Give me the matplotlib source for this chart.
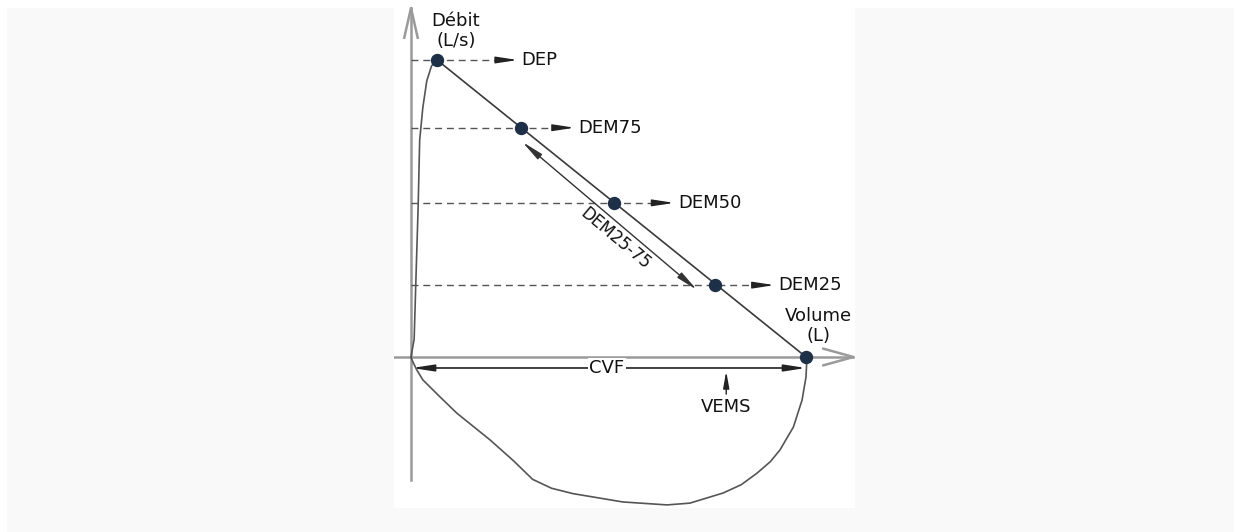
#!/usr/bin/env python3
"""Courbe debit-volume schematique (spirometrie): DEP, DEM75/50/25, CVF, VEMS."""
import matplotlib
matplotlib.use("Agg")
import matplotlib.pyplot as plt
from matplotlib.patches import Rectangle

CVF = 5.0
DEP = 10.0

# montee initiale de la courbe expiratoire jusqu'au DEP
rise_vol = [0.0, 0.04, 0.06, 0.09, 0.11, 0.15, 0.20, 0.26, 0.33]
rise_flow = [0.0, 0.6, 2.4, 5.0, 7.3, 8.4, 9.3, 9.8, 10.0]

# boucle inspiratoire (debits negatifs)
insp_vol = [0.0, 0.013, 0.07, 0.15, 0.37, 0.58, 1.00, 1.30, 1.54, 1.78, 2.05, 2.68, 3.24,
            3.53, 3.95, 4.18, 4.38, 4.55, 4.67, 4.84, 4.95, 5.00, 5.01, 5.0]
insp_flow = [0.0, -0.10, -0.42, -0.77, -1.35, -1.89, -2.79, -3.50, -4.12, -4.42, -4.60,
             -4.88, -4.98, -4.92, -4.58, -4.30, -3.91, -3.52, -3.13, -2.36, -1.45,
             -0.67, -0.10, 0.0]

# points remarquables
pt_labels = ["DEP", "DEM75", "DEM50", "DEM25"]
pt_vol = [0.33, 1.39, 2.57, 3.85]
pt_flow = [10.0, 7.72, 5.19, 2.42]
arrow_to = [1.35, 2.07, 3.33, 4.60]   # fin des fleches pointillees

VEMS_VOL = 3.99

plt.rcParams["font.family"] = ["DejaVu Sans"]

W, H = 1234, 532
fig = plt.figure(figsize=(W / 100, H / 100), dpi=100, facecolor="white")
# fond gris clair avec panneau central blanc
fig.add_artist(Rectangle((7 / W, 0), 1 - 7 / W, 1 - 8 / H, transform=fig.transFigure,
                         facecolor="#f9f9f9", edgecolor="none", zorder=-10))
fig.add_artist(Rectangle((394 / W, (H - 508) / H), 461 / W, 508 / H, transform=fig.transFigure,
                         facecolor="white", edgecolor="none", zorder=-9))
ax = fig.add_axes([394 / W, (H - 508) / H, 461 / W, 508 / H])
ax.set_xlim(-0.215, 5.62)
ax.set_ylim(-5.084, 12.02)
ax.axis("off")

axis_col = "#9a9a9a"
# axes avec fleches ouvertes
ax.plot([0, 0], [-4.14, 11.75], color=axis_col, lw=1.8, zorder=1)
ax.plot([-0.085, 0, 0.085], [10.75, 11.75, 10.75], color=axis_col, lw=1.8, zorder=1)
ax.plot([-0.215, 5.6], [0, 0], color=axis_col, lw=1.8, zorder=1)
ax.plot([5.22, 5.6, 5.22], [0.28, 0, -0.28], color=axis_col, lw=1.8, zorder=1)

curve_col = "#555555"
ax.plot(rise_vol, rise_flow, color=curve_col, lw=1.2, zorder=3)
ax.plot([pt_vol[0], CVF], [DEP, 0], color="#3a3a3a", lw=1.2, zorder=3)
ax.plot(insp_vol, insp_flow, color=curve_col, lw=1.2, zorder=3, solid_joinstyle="round")

head = "-|>,head_length=1.3,head_width=0.2"
for lab, v, f, end in zip(pt_labels, pt_vol, pt_flow, arrow_to):
    ax.plot([0, end - 0.12], [f, f], color="#555555", lw=1.0, ls=(0, (5, 3.5)), zorder=2)
    ax.annotate("", xy=(end, f), xytext=(end - 0.25, f),
                arrowprops=dict(arrowstyle=head, color="#222222", lw=1.0,
                                shrinkA=0, shrinkB=0, mutation_scale=10), zorder=2)
    ax.text(end + 0.05, f, lab, fontsize=13, ha="left", va="center", color="#111111")

ax.plot(pt_vol + [CVF], pt_flow + [0], "o", color="#1d3048", ms=8.6, zorder=5)

dbl = "<|-|>,head_length=1.3,head_width=0.2"
# DEM25-75 : double fleche parallele a la pente
v75, f75 = pt_vol[1] + 0.02, pt_flow[1] - 0.48
v25, f25 = pt_vol[3] - 0.23, pt_flow[3] - 0.16
ax.annotate("", xy=(v75, f75), xytext=(v25, f25),
            arrowprops=dict(arrowstyle=dbl, color="#333333", lw=1.0, shrinkA=0, shrinkB=0,
                            mutation_scale=10), zorder=2)
ax.text((v75 + v25) / 2 + 0.07, (f75 + f25) / 2 - 0.75, "DEM25-75", fontsize=12,
        rotation=-40, ha="center", va="center", rotation_mode="anchor", color="#111111")

# CVF
ax.annotate("", xy=(0.013, -0.37), xytext=(CVF, -0.37),
            arrowprops=dict(arrowstyle=dbl, color="#222222", lw=1.2, shrinkA=0, shrinkB=0,
                            mutation_scale=10), zorder=2)
ax.text(2.48, -0.37, "CVF", fontsize=13, ha="center", va="center", color="#111111",
        bbox=dict(facecolor="white", edgecolor="none", pad=1.0), zorder=4)

# VEMS
ax.annotate("", xy=(VEMS_VOL, -0.48), xytext=(VEMS_VOL, -1.25),
            arrowprops=dict(arrowstyle="-|>,head_length=1.0,head_width=0.18",
                            color="#222222", lw=1.0, shrinkA=0, shrinkB=0,
                            mutation_scale=10), zorder=2)
ax.text(VEMS_VOL, -1.7, "VEMS", fontsize=13, ha="center", va="center", color="#111111")

ax.text(0.57, 10.98, "Débit\n(L/s)", fontsize=13, ha="center", va="center",
        linespacing=1.15, color="#111111")
ax.text(5.16, 1.03, "Volume\n(L)", fontsize=13, ha="center", va="center",
        linespacing=1.15, color="#111111")

fig.savefig("out.png", dpi=100, facecolor=fig.get_facecolor())
